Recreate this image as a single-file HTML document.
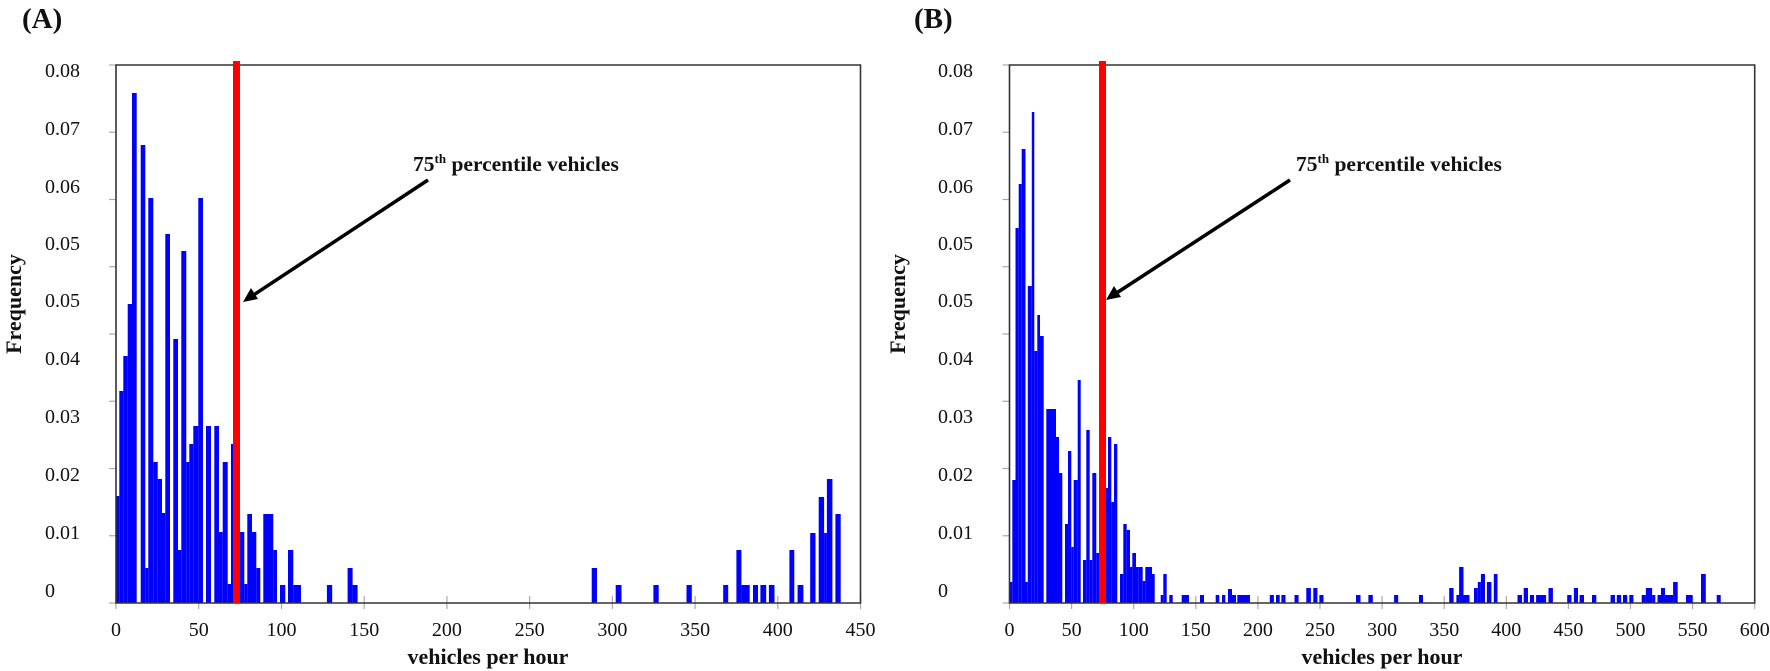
<!DOCTYPE html>
<html><head><meta charset="utf-8"><style>
html,body{margin:0;padding:0;background:#fff}
svg{display:block}
text{font-family:"Liberation Serif",serif;fill:#111}
.b{font-weight:bold}
</style></head><body>
<svg width="1770" height="671" viewBox="0 0 1770 671" xmlns="http://www.w3.org/2000/svg">
<!-- Panel A -->
<text x="22" y="28" class="b" font-size="29">(A)</text>
<g font-size="20">
<text x="45" y="77">0.08</text><text x="45" y="135">0.07</text><text x="45" y="193">0.06</text><text x="45" y="250">0.05</text><text x="45" y="307">0.05</text><text x="45" y="365">0.04</text><text x="45" y="423">0.03</text><text x="45" y="481">0.02</text><text x="45" y="539">0.01</text><text x="45" y="597">0</text>
</g>
<text transform="translate(21,304) rotate(-90)" text-anchor="middle" class="b" font-size="22">Frequency</text>
<g stroke="#aaa" stroke-width="1.2">
<line x1="109" y1="65" x2="116" y2="65"/><line x1="109" y1="132.25" x2="116" y2="132.25"/><line x1="109" y1="199.5" x2="116" y2="199.5"/><line x1="109" y1="266.75" x2="116" y2="266.75"/><line x1="109" y1="334" x2="116" y2="334"/><line x1="109" y1="401.25" x2="116" y2="401.25"/><line x1="109" y1="468.5" x2="116" y2="468.5"/><line x1="109" y1="535.75" x2="116" y2="535.75"/><line x1="109" y1="603" x2="116" y2="603"/>
<line x1="116" y1="596" x2="116" y2="609"/><line x1="198.7" y1="596" x2="198.7" y2="609"/><line x1="281.5" y1="596" x2="281.5" y2="609"/><line x1="364.2" y1="596" x2="364.2" y2="609"/><line x1="446.9" y1="596" x2="446.9" y2="609"/><line x1="529.6" y1="596" x2="529.6" y2="609"/><line x1="612.4" y1="596" x2="612.4" y2="609"/><line x1="695.1" y1="596" x2="695.1" y2="609"/><line x1="777.8" y1="596" x2="777.8" y2="609"/><line x1="860.5" y1="596" x2="860.5" y2="609"/>
</g>
<g font-size="20" text-anchor="middle">
<text x="116" y="636">0</text><text x="198.7" y="636">50</text><text x="281.5" y="636">100</text><text x="364.2" y="636">150</text><text x="446.9" y="636">200</text><text x="529.6" y="636">250</text><text x="612.4" y="636">300</text><text x="695.1" y="636">350</text><text x="777.8" y="636">400</text><text x="860.5" y="636">450</text>
</g>
<text x="488" y="664" text-anchor="middle" class="b" font-size="22">vehicles per hour</text>
<g fill="#0000ff">
<rect x="116" y="496" width="3.3" height="107"/><rect x="119.3" y="391" width="4" height="212"/><rect x="123.3" y="356" width="4.4" height="247"/><rect x="127.7" y="304" width="4.3" height="299"/><rect x="132" y="93" width="4.7" height="510"/>
<rect x="140.7" y="145" width="4.6" height="458"/><rect x="145.3" y="568" width="3" height="35"/><rect x="148.3" y="198" width="5" height="405"/><rect x="153.3" y="462" width="4.4" height="141"/><rect x="157.7" y="479" width="4.3" height="124"/><rect x="162" y="513" width="3.3" height="90"/><rect x="165.3" y="234" width="4.7" height="369"/>
<rect x="173.3" y="339" width="4.7" height="264"/><rect x="178" y="550" width="3.3" height="53"/><rect x="181.3" y="251" width="5" height="352"/><rect x="186.3" y="462" width="3" height="141"/><rect x="189.3" y="444" width="4" height="159"/><rect x="193.3" y="426" width="5" height="177"/><rect x="198.3" y="198" width="4.7" height="405"/>
<rect x="206" y="426" width="5" height="177"/><rect x="214.3" y="426" width="4.7" height="177"/><rect x="219" y="532" width="3.7" height="71"/><rect x="222.7" y="462" width="5" height="141"/><rect x="227.7" y="584" width="3.3" height="19"/><rect x="231" y="444" width="2.5" height="159"/>
<rect x="240" y="532" width="4.3" height="71"/><rect x="244.3" y="584" width="3" height="19"/><rect x="247.3" y="514" width="4.7" height="89"/><rect x="252" y="532" width="4.3" height="71"/><rect x="256.3" y="568" width="4" height="35"/><rect x="263.3" y="514" width="10" height="89"/><rect x="273.3" y="550" width="3.7" height="53"/><rect x="280" y="585" width="5.3" height="18"/><rect x="288" y="550" width="5.3" height="53"/><rect x="293.3" y="585" width="7.7" height="18"/>
<rect x="326.9" y="585" width="5.3" height="18"/><rect x="347.6" y="568" width="5" height="35"/><rect x="352.6" y="585" width="5" height="18"/><rect x="591.7" y="568" width="5.3" height="35"/><rect x="615.7" y="585" width="5.8" height="18"/><rect x="653.4" y="585" width="5.3" height="18"/><rect x="686.5" y="585" width="5.3" height="18"/><rect x="723.2" y="585" width="5" height="18"/><rect x="736.4" y="550" width="5" height="53"/><rect x="741.4" y="585" width="8.3" height="18"/><rect x="753" y="585" width="5" height="18"/><rect x="760.4" y="585" width="5.8" height="18"/><rect x="768.9" y="585" width="5.6" height="18"/><rect x="789.4" y="550" width="4.9" height="53"/><rect x="797.6" y="585" width="5.8" height="18"/><rect x="810.2" y="533" width="5.3" height="70"/><rect x="818.7" y="497" width="5.4" height="106"/><rect x="824.1" y="533" width="2.8" height="70"/><rect x="826.9" y="479" width="5.5" height="124"/><rect x="835.4" y="514" width="5.3" height="89"/>
</g>
<path d="M116 603 V65 H860.5 V603 Z" fill="none" stroke="#333" stroke-width="1.6"/>
<rect x="233" y="61" width="7" height="542" fill="#ff0000"/>
<text x="413" y="171" class="b" font-size="21.5">75<tspan font-size="13" dy="-8">th</tspan><tspan dy="8"> percentile vehicles</tspan></text>
<line x1="428" y1="180" x2="252" y2="296" stroke="#000" stroke-width="3.5"/>
<polygon points="243,302 251,288 258,299" fill="#000"/>

<!-- Panel B -->
<text x="914" y="28" class="b" font-size="29">(B)</text>
<g font-size="20">
<text x="938" y="77">0.08</text><text x="938" y="135">0.07</text><text x="938" y="193">0.06</text><text x="938" y="250">0.05</text><text x="938" y="307">0.05</text><text x="938" y="365">0.04</text><text x="938" y="423">0.03</text><text x="938" y="481">0.02</text><text x="938" y="539">0.01</text><text x="938" y="597">0</text>
</g>
<text transform="translate(905,304) rotate(-90)" text-anchor="middle" class="b" font-size="22">Frequency</text>
<g stroke="#aaa" stroke-width="1.2">
<line x1="1002.5" y1="65" x2="1009.5" y2="65"/><line x1="1002.5" y1="132.25" x2="1009.5" y2="132.25"/><line x1="1002.5" y1="199.5" x2="1009.5" y2="199.5"/><line x1="1002.5" y1="266.75" x2="1009.5" y2="266.75"/><line x1="1002.5" y1="334" x2="1009.5" y2="334"/><line x1="1002.5" y1="401.25" x2="1009.5" y2="401.25"/><line x1="1002.5" y1="468.5" x2="1009.5" y2="468.5"/><line x1="1002.5" y1="535.75" x2="1009.5" y2="535.75"/><line x1="1002.5" y1="603" x2="1009.5" y2="603"/>
<line x1="1009.5" y1="596" x2="1009.5" y2="609"/><line x1="1071.6" y1="596" x2="1071.6" y2="609"/><line x1="1133.7" y1="596" x2="1133.7" y2="609"/><line x1="1195.8" y1="596" x2="1195.8" y2="609"/><line x1="1257.9" y1="596" x2="1257.9" y2="609"/><line x1="1320" y1="596" x2="1320" y2="609"/><line x1="1382.1" y1="596" x2="1382.1" y2="609"/><line x1="1444.2" y1="596" x2="1444.2" y2="609"/><line x1="1506.3" y1="596" x2="1506.3" y2="609"/><line x1="1568.4" y1="596" x2="1568.4" y2="609"/><line x1="1630.5" y1="596" x2="1630.5" y2="609"/><line x1="1692.6" y1="596" x2="1692.6" y2="609"/><line x1="1754.7" y1="596" x2="1754.7" y2="609"/>
</g>
<g font-size="20" text-anchor="middle">
<text x="1009.5" y="636">0</text><text x="1071.6" y="636">50</text><text x="1133.7" y="636">100</text><text x="1195.8" y="636">150</text><text x="1257.9" y="636">200</text><text x="1320" y="636">250</text><text x="1382.1" y="636">300</text><text x="1444.2" y="636">350</text><text x="1506.3" y="636">400</text><text x="1568.4" y="636">450</text><text x="1630.5" y="636">500</text><text x="1692.6" y="636">550</text><text x="1754.7" y="636">600</text>
</g>
<text x="1382" y="664" text-anchor="middle" class="b" font-size="22">vehicles per hour</text>
<g fill="#0000ff">
<rect x="1009.5" y="582" width="2.8" height="21"/><rect x="1012.3" y="480" width="3.2" height="123"/><rect x="1015.5" y="228" width="3.2" height="375"/><rect x="1018.7" y="184" width="3" height="419"/><rect x="1021.7" y="149" width="3.8" height="454"/><rect x="1025.5" y="582" width="2.3" height="21"/><rect x="1027.8" y="286" width="4" height="317"/><rect x="1031.8" y="112" width="2.5" height="491"/><rect x="1034.3" y="351" width="3" height="252"/><rect x="1037.3" y="315" width="2.7" height="288"/><rect x="1040" y="336" width="3.7" height="267"/>
<rect x="1046.3" y="409" width="9.7" height="194"/><rect x="1056" y="437" width="3" height="166"/><rect x="1059" y="473" width="3.3" height="130"/><rect x="1065" y="524" width="3" height="79"/><rect x="1068" y="451" width="3.3" height="152"/><rect x="1071.3" y="547" width="2.4" height="56"/><rect x="1073.7" y="480" width="4" height="123"/><rect x="1077.7" y="380" width="3" height="223"/>
<rect x="1083" y="560" width="3.3" height="43"/><rect x="1086.3" y="430" width="3.4" height="173"/><rect x="1089.7" y="560" width="2.6" height="43"/><rect x="1092.3" y="473" width="4" height="130"/><rect x="1096.3" y="553" width="2.7" height="50"/>
<rect x="1106" y="488" width="2" height="115"/><rect x="1108" y="437" width="3.3" height="166"/><rect x="1111.3" y="502" width="2.7" height="101"/><rect x="1114" y="444" width="3.3" height="159"/>
<rect x="1120" y="574" width="3.3" height="29"/><rect x="1123.3" y="524" width="3.4" height="79"/><rect x="1126.7" y="530" width="3.3" height="73"/><rect x="1130" y="567" width="2.3" height="36"/><rect x="1132.3" y="553" width="3.7" height="50"/><rect x="1136" y="567" width="2.7" height="36"/><rect x="1138.7" y="567" width="4" height="36"/><rect x="1142.7" y="581" width="2.6" height="22"/><rect x="1145.3" y="567" width="6.7" height="36"/><rect x="1152" y="574" width="2.7" height="29"/>
<rect x="1160.7" y="595" width="2.6" height="8"/><rect x="1163.3" y="574" width="3.4" height="29"/><rect x="1169.3" y="595" width="3.4" height="8"/><rect x="1181.7" y="595" width="7.3" height="8"/><rect x="1200" y="595" width="4" height="8"/><rect x="1215.7" y="595" width="3.6" height="8"/><rect x="1222" y="595" width="3.3" height="8"/><rect x="1228" y="589" width="4" height="14"/><rect x="1232" y="595" width="4" height="8"/><rect x="1237.3" y="595" width="12.7" height="8"/>
<rect x="1269.8" y="595" width="4.1" height="8"/><rect x="1276" y="595" width="3.7" height="8"/><rect x="1281.4" y="595" width="4.1" height="8"/><rect x="1294.5" y="595" width="4.1" height="8"/><rect x="1306.3" y="588" width="4.6" height="15"/><rect x="1313.3" y="588" width="4.1" height="15"/><rect x="1319.4" y="595" width="4.1" height="8"/><rect x="1356" y="595" width="4.5" height="8"/><rect x="1368.4" y="595" width="4.4" height="8"/><rect x="1394.1" y="595" width="4.1" height="8"/><rect x="1419" y="595" width="4" height="8"/>
<rect x="1449.2" y="588" width="4.4" height="15"/><rect x="1456.4" y="595" width="2.7" height="8"/><rect x="1459.1" y="567" width="4.4" height="36"/><rect x="1463.5" y="595" width="6" height="8"/><rect x="1474" y="588" width="3.8" height="15"/><rect x="1477.8" y="582" width="3.1" height="21"/><rect x="1480.9" y="574" width="4.1" height="29"/><rect x="1486.9" y="582" width="4.5" height="21"/><rect x="1493.8" y="574" width="3.7" height="29"/>
<rect x="1517.5" y="595" width="4.5" height="8"/><rect x="1523.7" y="588" width="4.3" height="15"/><rect x="1529.9" y="595" width="4.2" height="8"/><rect x="1536.1" y="595" width="10" height="8"/><rect x="1548.5" y="588" width="4.4" height="15"/><rect x="1567.2" y="595" width="4.3" height="8"/><rect x="1573.9" y="588" width="4.1" height="15"/><rect x="1579.6" y="595" width="4.4" height="8"/><rect x="1592" y="595" width="4.3" height="8"/><rect x="1610.6" y="595" width="4.4" height="8"/><rect x="1616.8" y="595" width="4.4" height="8"/><rect x="1623" y="595" width="4.3" height="8"/><rect x="1629.3" y="595" width="4.1" height="8"/>
<rect x="1641.7" y="595" width="4.2" height="8"/><rect x="1645.9" y="588" width="6.2" height="15"/><rect x="1652.1" y="595" width="3.2" height="8"/><rect x="1657.5" y="595" width="3.5" height="8"/><rect x="1661" y="588" width="4" height="15"/><rect x="1665" y="595" width="8.1" height="8"/><rect x="1673.1" y="582" width="4.6" height="21"/><rect x="1686" y="595" width="6.6" height="8"/><rect x="1701" y="574" width="4.8" height="29"/><rect x="1716.7" y="595" width="4" height="8"/>
</g>
<path d="M1009.5 603 V65 H1754.7 V603 Z" fill="none" stroke="#333" stroke-width="1.6"/>
<rect x="1099" y="61" width="7" height="542" fill="#ff0000"/>
<text x="1296" y="171" class="b" font-size="21.5">75<tspan font-size="13" dy="-8">th</tspan><tspan dy="8"> percentile vehicles</tspan></text>
<line x1="1290" y1="180" x2="1115" y2="294" stroke="#000" stroke-width="3.5"/>
<polygon points="1106,300 1114,286 1121,297" fill="#000"/>
</svg>
</body></html>
